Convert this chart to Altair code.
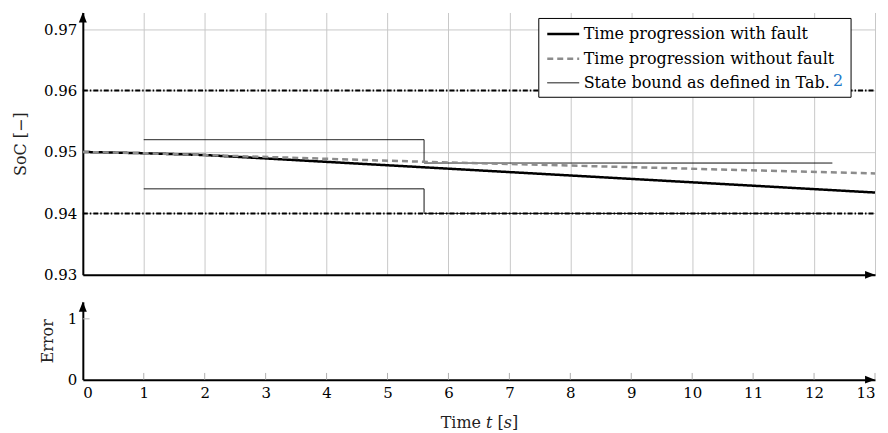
import altair as alt
import pandas as pd

# ---------------- data ----------------
S_FAULT = "Time progression with fault"
S_NOFAULT = "Time progression without fault"
S_BOUND = "State bound as defined in Tab. 2"
series_names = [S_FAULT, S_NOFAULT, S_BOUND]

t_fault = [0, 1, 2, 13]
soc_fault = [0.9500, 0.9498, 0.9495, 0.9434]

t_nofault = [0, 1, 2, 5.6, 13]
soc_nofault = [0.9500, 0.9498, 0.9495, 0.9484, 0.9465]

t_bound = [1, 5.6, 5.6, 12.3]
soc_bound_upper = [0.952, 0.952, 0.9482, 0.9482]
soc_bound_lower = [0.944, 0.944, 0.940, 0.940]

limit_t = [0, 13]
limit_values = [0.96, 0.94]

x_ticks = list(range(14))
soc_ticks = [0.93, 0.94, 0.95, 0.96, 0.97]
error_ticks = [0, 1]

FONT = "DejaVu Serif"
FS = 15
TFS = 16
LFS = 16
GRID = "#c8c8c8"

# legend frame (plot-area pixels of the upper panel)
LEG_X, LEG_Y, LEG_W, LEG_H = 457, 6, 313, 79

# ---------------- tables ----------------
df_fault = pd.DataFrame({"t": t_fault, "soc": soc_fault, "series": S_FAULT,
                         "part": "f", "idx": range(len(t_fault))})
df_nofault = pd.DataFrame({"t": t_nofault, "soc": soc_nofault, "series": S_NOFAULT,
                           "part": "n", "idx": range(len(t_nofault))})
df_bound = pd.concat([
    pd.DataFrame({"t": t_bound, "soc": soc_bound_upper, "series": S_BOUND,
                  "part": "upper", "idx": range(len(t_bound))}),
    pd.DataFrame({"t": t_bound, "soc": soc_bound_lower, "series": S_BOUND,
                  "part": "lower", "idx": range(len(t_bound))}),
])
df_limits = pd.DataFrame([{"t": t, "soc": v, "part": str(v)} for v in limit_values for t in limit_t])

x_scale = alt.Scale(domain=[0, 13], nice=False, zero=False)
soc_scale = alt.Scale(domain=[0.93, 0.9727], nice=False, zero=False)
err_scale = alt.Scale(domain=[0, 1.28], nice=False, zero=False)

top_x_axis = alt.Axis(values=x_ticks, labels=False, ticks=False, grid=True, gridColor=GRID,
                      domainColor="black", domainWidth=2, title=None)
top_y_axis = alt.Axis(values=soc_ticks, format=".2f", ticks=False, grid=True, gridColor=GRID,
                      domainColor="black", domainWidth=2, labelPadding=6,
                      title="SoC [−]", titlePadding=15)
bot_x_axis = alt.Axis(values=x_ticks, ticks=False, grid=False, domainColor="black", domainWidth=2,
                      labelPadding=6, title="Time 𝑡 [𝑠]", titlePadding=14)
bot_y_axis = alt.Axis(values=error_ticks, format="d", ticks=False, grid=False,
                      domainColor="black", domainWidth=2, labelPadding=6,
                      title="Error", titlePadding=12)

# the table number "2" is drawn separately in link blue
BOUND_LABEL_SHORT = "State bound as defined in Tab."
legend = alt.Legend(title=None, orient="none", legendX=LEG_X + 1, legendY=LEG_Y,
                    symbolType="M -1 0 L 3 0", symbolSize=256,
                    labelFont=FONT, labelFontSize=LFS, labelColor="black", labelOffset=19,
                    labelLimit=0,
                    labelExpr=f"datum.label == '{S_BOUND}' ? '{BOUND_LABEL_SHORT}' : datum.label",
                    padding=6, rowPadding=7)

color_scale = alt.Scale(domain=series_names, range=["black", "#8c8c8c", "black"])
dash_scale = alt.Scale(domain=series_names, range=[[1, 0], [6, 4], [1, 0]])
width_scale = alt.Scale(type="ordinal", domain=series_names, range=[2.5, 2.5, 1])


def top_xy():
    return dict(x=alt.X("t:Q", scale=x_scale, axis=top_x_axis),
                y=alt.Y("soc:Q", scale=soc_scale, axis=top_y_axis))


def series_layer(df):
    return alt.Chart(df).mark_line(clip=False).encode(
        **top_xy(),
        color=alt.Color("series:N", scale=color_scale, legend=legend),
        strokeDash=alt.StrokeDash("series:N", scale=dash_scale, legend=legend),
        strokeWidth=alt.StrokeWidth("series:N", scale=width_scale, legend=legend),
        detail="part:N",
        order="idx:Q",
    )


limits_layer = alt.Chart(df_limits).mark_line(color="black", strokeWidth=2,
                                              strokeDash=[5, 2, 1.5, 2]).encode(
    **top_xy(), detail="part:N")

UP = "M 0 0 L 0.4 1 L -0.4 1 Z"
RIGHT = "M 0 0 L -1 -0.4 L -1 0.4 Z"

top_arrows = pd.DataFrame({"t": [0, 13], "soc": [0.9727, 0.93], "shape": [UP, RIGHT]})
top_arrow_layer = alt.Chart(top_arrows).mark_point(filled=True, color="black", opacity=1,
                                                   size=400, strokeWidth=0).encode(
    **top_xy(), shape=alt.Shape("shape:N", scale=None))

# white legend frame beneath the (transparent) legend
legend_box = alt.Chart(pd.DataFrame({"k": [0]})).mark_rect(
    fill="white", stroke="black", strokeWidth=1
).encode(x=alt.value(LEG_X), x2=alt.value(LEG_X + LEG_W),
         y=alt.value(LEG_Y), y2=alt.value(LEG_Y + LEG_H))

# blue link number of the legend entry
ref_link = alt.Chart(pd.DataFrame({"txt": ["2"]})).mark_text(
    font=FONT, fontSize=LFS, color="#1f78c8", align="left", baseline="middle"
).encode(text="txt:N", x=alt.value(752), y=alt.value(69))

top = alt.layer(
    series_layer(df_bound),
    limits_layer,
    series_layer(df_fault),
    series_layer(df_nofault),
    top_arrow_layer,
    legend_box,
    ref_link,
).properties(width=794, height=263)

# ---------------- bottom panel ----------------
def bot_xy(xf="t", yf="e"):
    return dict(x=alt.X(f"{xf}:Q", scale=x_scale, axis=bot_x_axis),
                y=alt.Y(f"{yf}:Q", scale=err_scale, axis=bot_y_axis))


df_xticks = pd.DataFrame({"t": x_ticks[1:], "e": 0.0, "e2": 0.11})
xtick_layer = alt.Chart(df_xticks).mark_rule(color="#b0b0b0", strokeWidth=1).encode(
    **bot_xy(), y2="e2:Q")
df_yticks = pd.DataFrame({"t": [0.0], "t2": [0.11], "e": [1]})
ytick_layer = alt.Chart(df_yticks).mark_rule(color="#b0b0b0", strokeWidth=1).encode(
    **bot_xy(), x2="t2:Q")

bot_arrows = pd.DataFrame({"t": [0, 13], "e": [1.28, 0], "shape": [UP, RIGHT]})
bot_arrow_layer = alt.Chart(bot_arrows).mark_point(filled=True, color="black", opacity=1,
                                                   size=400, strokeWidth=0).encode(
    **bot_xy(), shape=alt.Shape("shape:N", scale=None))

bottom = alt.layer(xtick_layer, ytick_layer, bot_arrow_layer).properties(width=794, height=78)

chart = alt.vconcat(top, bottom, spacing=27, bounds="flush").properties(
    padding={"left": 4, "top": 4, "right": 0, "bottom": 0}
).configure(font=FONT).configure_view(stroke=None).configure_axis(
    labelFont=FONT, labelFontSize=FS, labelColor="black",
    titleFont=FONT, titleFontSize=TFS, titleFontWeight="normal", titleColor="#222222",
).configure_legend(labelFont=FONT, labelFontSize=LFS, labelLimit=0)

chart.save("out.html", embed_options={"renderer": "svg", "actions": False})
